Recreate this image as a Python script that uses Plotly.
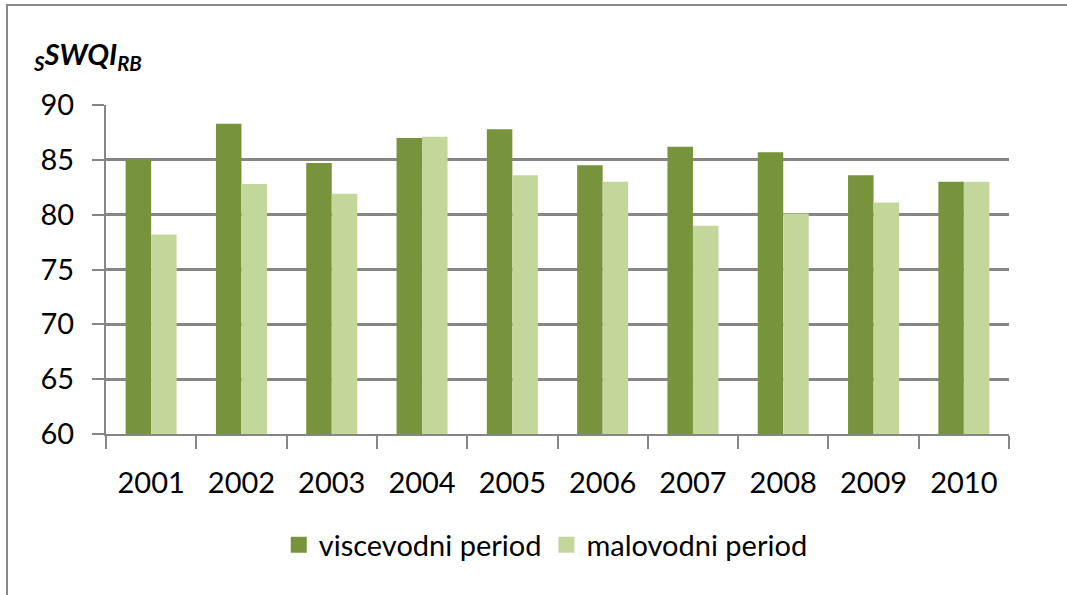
import plotly.graph_objects as go

years = ["2001", "2002", "2003", "2004", "2005", "2006", "2007", "2008", "2009", "2010"]
visoko = [85.0, 88.3, 84.7, 87.0, 87.8, 84.5, 86.2, 85.7, 83.6, 83.0]
malo = [78.2, 82.8, 81.9, 87.1, 83.6, 83.0, 79.0, 80.1, 81.1, 83.0]
names = ["viscevodni period", "malovodni period"]
colors = ["#77933C", "#C4D79B"]
yticks = [60, 65, 70, 75, 80, 85, 90]

FONT = "Lato, sans-serif"
W, H = 1067, 595
L, R, T, B = 106, 58, 105, 161
pw, ph = W - L - R, H - T - B

fig = go.Figure()
for vals, nm, c in zip([visoko, malo], names, colors):
    fig.add_trace(go.Bar(x=years, y=vals, name=nm, marker=dict(color=c, line=dict(width=0)),
                         showlegend=False))
    fig.add_trace(go.Scatter(x=[None], y=[None], mode="markers", name=nm,
                             marker=dict(symbol="square", size=17, color=c)))

fig.update_layout(
    width=W, height=H,
    margin=dict(l=L, r=R, t=T, b=B),
    paper_bgcolor="white", plot_bgcolor="white",
    barmode="group", bargap=0.435, bargroupgap=0,
    font=dict(family=FONT, size=28, color="black"),
    legend=dict(orientation="h", x=0.487, xanchor="center", y=1 - (545 - T) / ph, yanchor="middle",
                font=dict(family=FONT, size=29), itemwidth=30, tracegroupgap=0),
    xaxis=dict(type="category", showgrid=False, showline=True, linecolor="#868686", linewidth=2,
               ticks="outside", tickson="boundaries", ticklen=13, tickcolor="#868686", tickwidth=2,
               ticklabelstandoff=22, tickfont=dict(family=FONT, size=29)),
    yaxis=dict(range=[60, 90], tickvals=yticks, showgrid=True, gridcolor="#868686", gridwidth=2.5,
               showline=True, linecolor="#868686", linewidth=2, zeroline=False,
               ticks="outside", ticklen=12, tickcolor="#868686", tickwidth=2,
               ticklabelstandoff=12, tickfont=dict(family=FONT, size=29)),
    annotations=[dict(xref="paper", yref="paper", x=(31 - L) / pw, y=1 + (T - 55) / ph,
                      xanchor="left", yanchor="middle", showarrow=False,
                      text="<sub><b><i>S</i></b></sub><b><i>SWQI</i></b><sub><b><i>RB</i></b></sub>",
                      font=dict(family=FONT, size=29, color="black"))],
    shapes=[dict(type="rect", xref="paper", yref="paper",
                 x0=(7 - L) / pw, x1=(W + 20 - L) / pw,
                 y0=1 - (H + 20 - T) / ph, y1=1 + (T - 5) / ph,
                 line=dict(color="#888888", width=2), layer="below")],
)

fig.write_html("out.html", config={"displayModeBar": False},
               post_script="document.body.style.margin='0';")
